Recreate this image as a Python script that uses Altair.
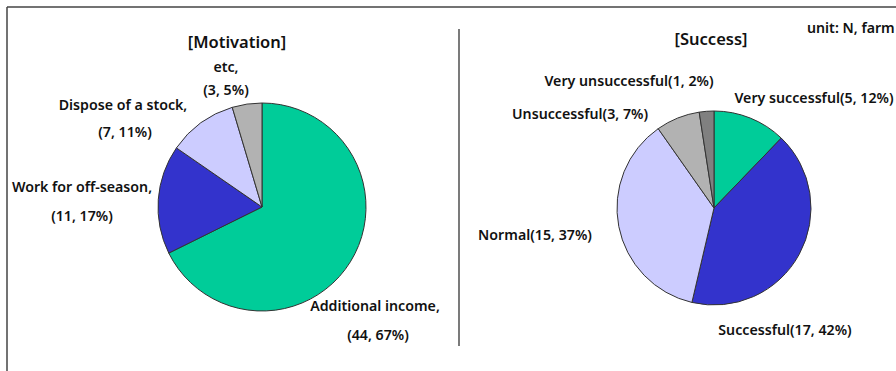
import altair as alt
import pandas as pd

# ---- data ----
mot_cats = ["Additional income", "Work for off-season", "Dispose of a stock", "etc"]
mot_n = [44, 11, 7, 3]
mot_pct = [67, 17, 11, 5]

suc_cats = ["Very successful", "Successful", "Normal", "Unsuccessful", "Very unsuccessful"]
suc_n = [5, 17, 15, 3, 1]
suc_pct = [12, 42, 37, 7, 2]

# ---- styles / layout ----
mot_colors = ["#00CC99", "#3333CC", "#CCCCFF", "#B2B2B2"]
suc_colors = ["#00CC99", "#3333CC", "#CCCCFF", "#B2B2B2", "#808080"]
FONT = "Noto Sans"
FS = 14.2
W, H = 896, 371

mot_center, mot_r = (262, 207), 104
suc_center, suc_r = (714, 208), 97

# label line positions (center x, middle y)
mot_label_pos = [((375, 307), (378, 336)), ((82, 188), (82, 217)),
                 ((123, 106), (125, 133)), ((226, 68), (226, 91))]
suc_label_pos = [(814, 99), (785, 331), (535, 236), (580, 115), (629, 82)]

mot_df = pd.DataFrame({"cat": mot_cats, "n": mot_n, "idx": range(len(mot_cats))})
suc_df = pd.DataFrame({"cat": suc_cats, "n": suc_n, "idx": range(len(suc_cats))})

rows = []
for c, n, p, (l1, l2) in zip(mot_cats, mot_n, mot_pct, mot_label_pos):
    rows.append({"t": f"{c},", "x": l1[0], "y": l1[1]})
    rows.append({"t": f"({n}, {p}%)", "x": l2[0], "y": l2[1]})
for c, n, p, pos in zip(suc_cats, suc_n, suc_pct, suc_label_pos):
    rows.append({"t": f"{c}({n}, {p}%)", "x": pos[0], "y": pos[1]})
lab_df = pd.DataFrame(rows)

titles_df = pd.DataFrame({"t": ["[Motivation]", "[Success]"], "x": [237, 711], "y": [43, 40]})


def pie(df, cats, colors, center, r):
    return alt.Chart(df).mark_arc(radius=r, stroke="#333333", strokeWidth=1).encode(
        theta=alt.Theta("n:Q", stack=True),
        color=alt.Color("cat:N", scale=alt.Scale(domain=cats, range=colors), legend=None),
        order=alt.Order("idx:Q", sort="ascending"),
        x=alt.value(center[0]),
        y=alt.value(center[1]),
    )


p1 = pie(mot_df, mot_cats, mot_colors, mot_center, mot_r)
p2 = pie(suc_df, suc_cats, suc_colors, suc_center, suc_r)

labels = alt.Chart(lab_df).mark_text(font=FONT, fontSize=FS, fontWeight=600, color="#111111",
                                     align="center", baseline="middle").encode(
    x=alt.X("x:Q", scale=None), y=alt.Y("y:Q", scale=None), text="t:N")

titles = alt.Chart(titles_df).mark_text(font=FONT, fontSize=16.5, fontWeight=600, color="#111111",
                                        align="center", baseline="middle").encode(
    x=alt.X("x:Q", scale=None), y=alt.Y("y:Q", scale=None), text="t:N")

unit = alt.Chart(pd.DataFrame({"t": ["unit: N, farm"]})).mark_text(
    font=FONT, fontSize=FS, fontWeight=600, color="#111111", align="left", baseline="middle"
).encode(x=alt.value(807), y=alt.value(29), text="t:N")

line_top = alt.Chart(pd.DataFrame({"a": [0]})).mark_rule(color="#444444", strokeWidth=1.5).encode(
    x=alt.value(7), x2=alt.value(W), y=alt.value(7))
line_left = alt.Chart(pd.DataFrame({"a": [0]})).mark_rule(color="#444444", strokeWidth=1.5).encode(
    x=alt.value(7), y=alt.value(7), y2=alt.value(H))
divider = alt.Chart(pd.DataFrame({"a": [0]})).mark_rule(color="#222222", strokeWidth=1.2).encode(
    x=alt.value(459), y=alt.value(29), y2=alt.value(346))

chart = alt.layer(p1, p2, labels, titles, unit, line_top, line_left, divider).resolve_scale(
    theta="independent", color="independent"
).properties(
    width=W, height=H, padding=0, autosize=alt.AutoSizeParams(type="none"), background="white"
).configure_view(stroke=None)

chart.save("out.html", embed_options={"renderer": "svg", "actions": False})
